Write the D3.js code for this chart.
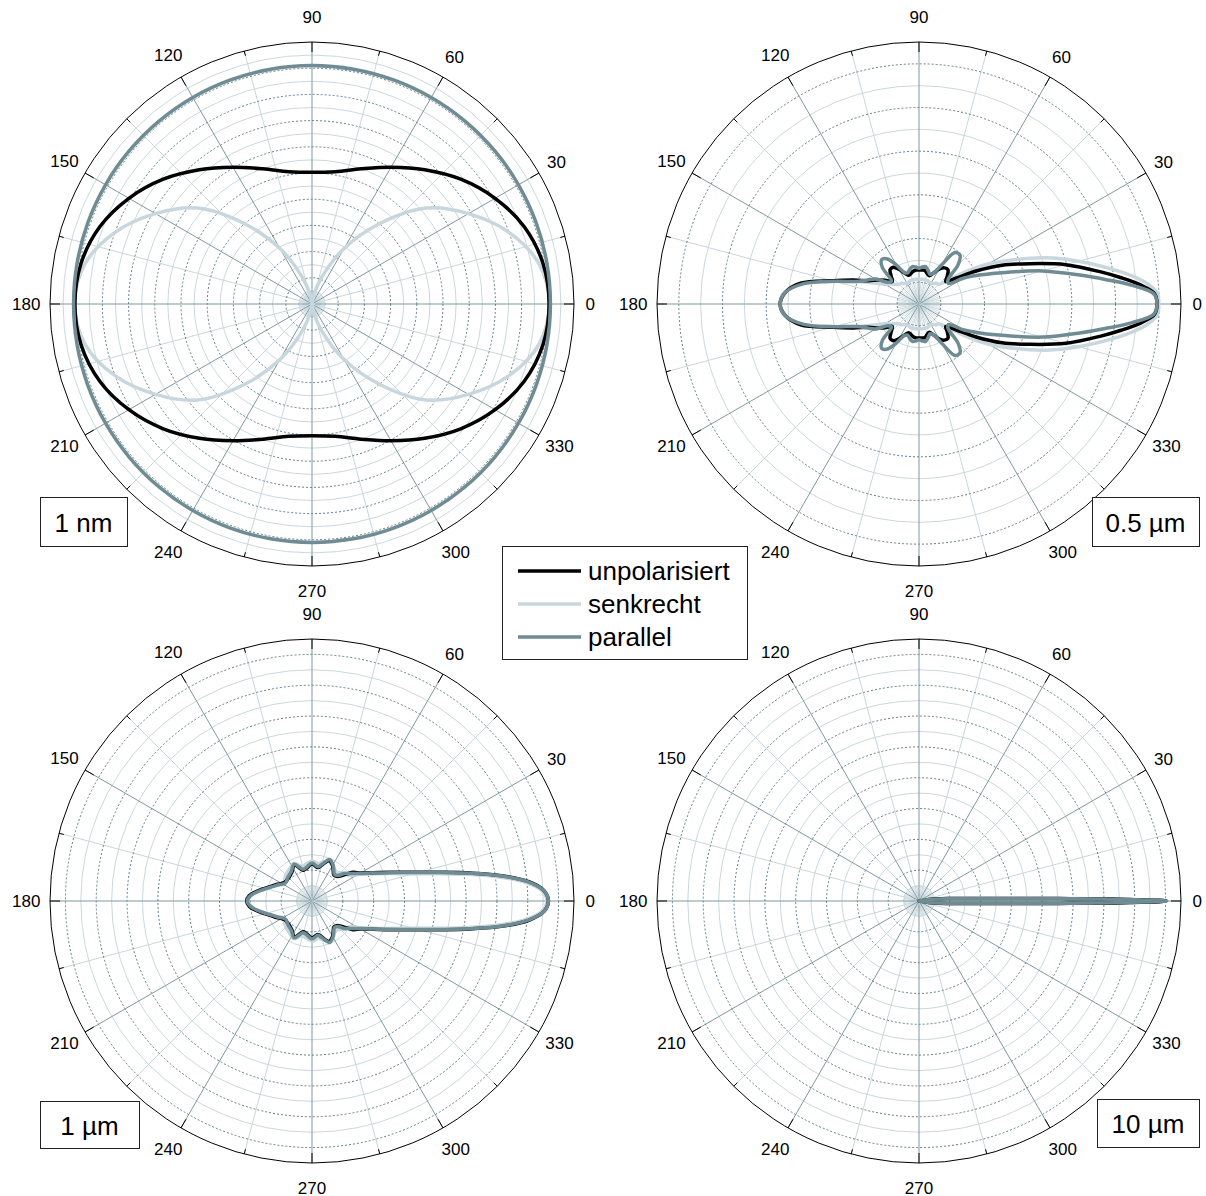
<!DOCTYPE html>
<html>
<head>
<meta charset="utf-8">
<script src="https://cdn.jsdelivr.net/npm/d3@7"></script>
<style>
body { margin: 0; background: #fff; }
text { font-family: "Liberation Sans", Arial, sans-serif; }
</style>
</head>
<body>
<script>
// angle tick labels (degrees)
var angleLabels = [0, 30, 60, 90, 120, 150, 180, 210, 240, 270, 300, 330];
var seriesNames = ["unpolarisiert", "senkrecht", "parallel"];
var seriesColors = ["#000000", "#c8d6dd", "#6f8b93"];

// 1 nm (linear radius 0..1), angles 0..180, lower half is the mirror image
var nmAngles = [0, 10, 20, 30, 40, 50, 60, 70, 80, 90, 100, 110, 120, 130, 140, 150, 160, 170, 180];
var nmUnpol = [0.905, 0.895, 0.862, 0.807, 0.741, 0.669, 0.603, 0.549, 0.513, 0.503, 0.513, 0.549, 0.603, 0.669, 0.741, 0.807, 0.862, 0.895, 0.905];
var nmSenk = [0.905, 0.88, 0.80, 0.69, 0.57, 0.40, 0.245, 0.11, 0.03, 0.0, 0.03, 0.11, 0.245, 0.40, 0.57, 0.69, 0.80, 0.88, 0.905];
var nmPar = [0.91, 0.91, 0.91, 0.91, 0.91, 0.91, 0.91, 0.91, 0.91, 0.91, 0.91, 0.91, 0.91, 0.91, 0.91, 0.91, 0.91, 0.91, 0.91];

// 0.5 um (log radius, 0..6 decades)
var um05Angles = [0, 2.5, 5, 7.5, 10, 15, 20, 25, 30, 35, 40, 45, 50, 55, 60, 65, 70, 75, 80, 85, 90, 95, 100, 105, 110, 115, 120, 125, 130, 135, 140, 145, 150, 155, 160, 165, 170, 175, 180];
var um05Unpol = [5.45, 5.40, 5.08, 4.65, 4.23, 3.48, 2.70, 2.10, 1.51, 1.03, 0.80, 0.92, 1.03, 1.01, 0.92, 0.78, 0.69, 0.72, 0.78, 0.78, 0.78, 0.78, 0.76, 0.72, 0.70, 0.78, 0.92, 1.03, 1.03, 0.90, 0.80, 0.95, 1.10, 1.26, 1.60, 2.06, 2.75, 3.07, 3.18];
var um05Senk = [5.49, 5.47, 5.26, 4.92, 4.53, 3.78, 3.09, 2.40, 1.83, 1.26, 0.80, 0.64, 0.62, 0.57, 0.55, 0.55, 0.57, 0.57, 0.57, 0.57, 0.57, 0.57, 0.57, 0.57, 0.57, 0.55, 0.55, 0.57, 0.62, 0.64, 0.70, 0.80, 0.90, 1.14, 1.51, 2.01, 2.70, 3.09, 3.18];
var um05Par = [5.45, 5.38, 4.90, 4.30, 3.78, 2.93, 2.11, 1.58, 1.19, 0.82, 0.87, 1.26, 1.46, 1.44, 1.03, 0.78, 0.73, 0.80, 0.87, 0.85, 0.82, 0.85, 0.87, 0.82, 0.76, 0.80, 1.03, 1.26, 1.33, 1.19, 0.82, 0.87, 1.14, 1.30, 1.51, 2.01, 2.68, 3.07, 3.18];

// 1 um (log radius, 0..8.5 decades)
var um1Angles = [0, 2.5, 5, 7.5, 10, 12.5, 15, 20, 25, 30, 35, 40, 45, 50, 55, 60, 67, 75, 80, 90, 100, 106, 116, 125, 135, 145, 150, 155, 160, 165, 170, 175, 180];
var um1Unpol = [7.67, 7.54, 7.08, 6.25, 5.22, 4.30, 3.60, 2.72, 2.17, 1.82, 1.62, 1.30, 1.13, 1.10, 1.20, 1.33, 1.43, 1.20, 1.10, 1.20, 1.07, 1.04, 1.30, 1.14, 1.07, 1.07, 1.14, 1.27, 1.40, 1.59, 1.82, 2.04, 2.12];
var um1Senk = [7.62, 7.48, 6.95, 6.05, 5.00, 4.10, 3.42, 2.60, 2.07, 1.72, 1.45, 1.42, 1.30, 1.23, 1.27, 1.36, 1.40, 1.30, 1.23, 1.30, 1.20, 1.17, 1.36, 1.27, 1.20, 1.10, 1.10, 1.23, 1.36, 1.55, 1.78, 2.00, 2.10];
var um1Par = [7.67, 7.54, 7.06, 6.21, 5.18, 4.27, 3.56, 2.69, 2.14, 1.78, 1.55, 1.39, 1.17, 1.13, 1.23, 1.36, 1.46, 1.23, 1.13, 1.23, 1.10, 1.07, 1.33, 1.17, 1.10, 1.04, 1.10, 1.23, 1.36, 1.55, 1.78, 2.00, 2.10];

// 10 um (log radius, 0..8.5 decades)
var um10Angles = [0, 0.15, 0.3, 0.6, 0.8, 1.0, 1.3, 1.7, 2.3, 3.2, 5, 8, 12, 30, 60, 90, 120, 150, 180];
var um10Unpol = [8.03, 7.80, 7.15, 6.20, 5.25, 4.55, 3.60, 2.78, 2.02, 1.47, 0.92, 0.40, 0, 0, 0, 0, 0, 0, 0];
var um10Senk = [8.03, 7.82, 7.25, 6.40, 5.50, 4.85, 3.90, 3.05, 2.25, 1.62, 1.02, 0.45, 0, 0, 0, 0, 0, 0, 0];
var um10Par = [8.03, 7.76, 7.00, 5.90, 4.95, 4.25, 3.30, 2.50, 1.80, 1.30, 0.82, 0.36, 0, 0, 0, 0, 0, 0, 0];

var R = 262;

var panels = [
  { cx: 312, cy: 304, label: "1 nm", box: [40, 497, 87, 49], domain: [0, 1],
    major: d3.range(1, 10).map(function(d){ return d / 10; }),
    minor: d3.range(1, 20, 2).map(function(d){ return d / 20; }),
    angles: nmAngles, series: [nmSenk, nmUnpol, nmPar] },
  { cx: 919, cy: 304, label: "0.5 µm", box: [1092, 497, 107, 49], domain: [0, 6],
    major: [0.5, 1.5, 2.5, 3.5, 4.5, 5.5], minor: [1, 2, 3, 4, 5],
    angles: um05Angles, series: [um05Senk, um05Unpol, um05Par] },
  { cx: 312, cy: 901, label: "1 µm", box: [40, 1101, 99, 47], domain: [0, 8.5],
    major: [1, 2, 3, 4, 5, 6, 7, 8], minor: [0.5, 1.5, 2.5, 3.5, 4.5, 5.5, 6.5, 7.5],
    angles: um1Angles, series: [um1Senk, um1Unpol, um1Par] },
  { cx: 919, cy: 901, label: "10 µm", box: [1097, 1099, 102, 48], domain: [0, 8.5],
    major: [1, 2, 3, 4, 5, 6, 7, 8], minor: [0.5, 1.5, 2.5, 3.5, 4.5, 5.5, 6.5, 7.5],
    angles: um10Angles, series: [um10Senk, um10Unpol, um10Par] }
];
// drawing order: senkrecht, unpolarisiert, parallel
var drawColors = [seriesColors[1], seriesColors[0], seriesColors[2]];

var svg = d3.select("body").append("svg")
  .attr("width", 1206)
  .attr("height", 1196);

var rad = Math.PI / 180;

function labelRadius(d){
  var w = String(d).length * 9.5;
  var s = Math.sin(d * rad), c = Math.abs(Math.cos(d * rad));
  return 282 + 5 * Math.pow(s, 4) + (w - 19) * 0.4 * Math.sqrt(c);
}

panels.forEach(function(p){
  var g = svg.append("g").attr("transform", "translate(" + p.cx + "," + p.cy + ")");
  var r = d3.scaleLinear().domain(p.domain).range([0, R]).clamp(true);

  // light circles
  g.selectAll(".minor").data(p.minor).enter().append("circle")
    .attr("r", function(d){ return r(d); })
    .attr("fill", "none").attr("stroke", "#cbd8de").attr("stroke-width", 1);

  // short fan of spokes inside the first circle
  var inner = r(Math.min(p.minor[0], p.major[0]));
  var fan = d3.range(0, 360, 5).filter(function(d){ return d % 15 != 0; });
  g.selectAll(".fan").data(fan).enter().append("line")
    .attr("x1", 0).attr("y1", 0)
    .attr("x2", function(d){ return inner * Math.cos(d * rad); })
    .attr("y2", function(d){ return -inner * Math.sin(d * rad); })
    .attr("stroke", "#c9d6dc").attr("stroke-width", 0.8);

  // spokes
  var spokes = d3.range(0, 360, 15);
  g.selectAll(".spoke").data(spokes).enter().append("line")
    .attr("x1", 0).attr("y1", 0)
    .attr("x2", function(d){ return R * Math.cos(d * rad); })
    .attr("y2", function(d){ return -R * Math.sin(d * rad); })
    .attr("stroke", function(d){ return d % 30 == 0 ? "#7f999f" : "#c9d6dc"; })
    .attr("stroke-width", 1);

  // dashed circles
  g.selectAll(".major").data(p.major).enter().append("circle")
    .attr("r", function(d){ return r(d); })
    .attr("fill", "none").attr("stroke", "#62808a").attr("stroke-width", 1)
    .attr("stroke-dasharray", "2,2");

  // outer circle and ticks
  g.append("circle").attr("r", R).attr("fill", "none").attr("stroke", "#000").attr("stroke-width", 1);
  g.selectAll(".tick").data(spokes).enter().append("line")
    .attr("x1", function(d){ return R * Math.cos(d * rad); })
    .attr("y1", function(d){ return -R * Math.sin(d * rad); })
    .attr("x2", function(d){ var l = d % 30 == 0 ? 10 : 5; return (R - l) * Math.cos(d * rad); })
    .attr("y2", function(d){ var l = d % 30 == 0 ? 10 : 5; return -(R - l) * Math.sin(d * rad); })
    .attr("stroke", "#000").attr("stroke-width", 1);

  // angle labels
  g.selectAll(".alabel").data(angleLabels).enter().append("text")
    .attr("x", function(d){ return labelRadius(d) * Math.cos(d * rad); })
    .attr("y", function(d){ return -labelRadius(d) * Math.sin(d * rad); })
    .attr("text-anchor", "middle")
    .attr("dominant-baseline", "central")
    .attr("font-size", 17)
    .attr("fill", "#000")
    .text(function(d){ return d; });

  // curves
  var line = d3.lineRadial()
    .angle(function(d){ return Math.PI / 2 - d.a * rad; })
    .radius(function(d){ return r(d.v); })
    .curve(d3.curveCatmullRomClosed.alpha(0.5));

  p.series.forEach(function(vals, i){
    var pts = p.angles.map(function(a, k){ return { a: a, v: vals[k] }; });
    // mirrored lower half
    for (var k = p.angles.length - 2; k > 0; k--) {
      pts.push({ a: 360 - p.angles[k], v: vals[k] });
    }
    g.append("path")
      .attr("d", line(pts))
      .attr("fill", "none")
      .attr("stroke", drawColors[i])
      .attr("stroke-width", 3.5)
      .attr("stroke-linejoin", "round");
  });

  // size label
  svg.append("rect")
    .attr("x", p.box[0] + 0.5).attr("y", p.box[1] + 0.5)
    .attr("width", p.box[2]).attr("height", p.box[3])
    .attr("fill", "#fff").attr("stroke", "#222").attr("stroke-width", 1);
  svg.append("text")
    .attr("x", p.box[0] + p.box[2] / 2).attr("y", p.box[1] + p.box[3] / 2 + 1)
    .attr("text-anchor", "middle").attr("dominant-baseline", "central")
    .attr("font-size", 26).text(p.label);
});

// legend
var leg = svg.append("g").attr("transform", "translate(502,546)");
leg.append("rect").attr("x", 0.5).attr("y", 0.5).attr("width", 245).attr("height", 113)
  .attr("fill", "#fff").attr("stroke", "#222").attr("stroke-width", 1);
seriesNames.forEach(function(name, i){
  leg.append("line")
    .attr("x1", 16).attr("x2", 79)
    .attr("y1", 25 + i * 33).attr("y2", 25 + i * 33)
    .attr("stroke", seriesColors[i]).attr("stroke-width", 3.5);
  leg.append("text")
    .attr("x", 86).attr("y", 25 + i * 33)
    .attr("dominant-baseline", "central")
    .attr("font-size", 26).text(name);
});
</script>
</body>
</html>
